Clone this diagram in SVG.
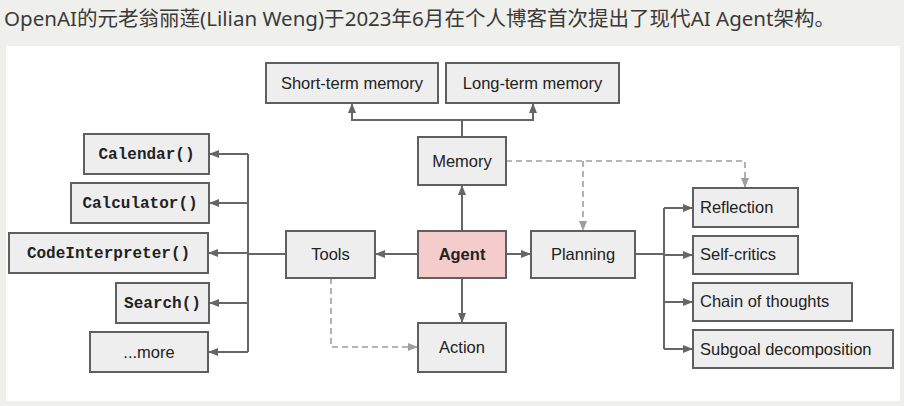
<svg xmlns="http://www.w3.org/2000/svg" width="904" height="406" viewBox="0 0 904 406">
<defs>
<style>
.box{fill:#eeeeee;stroke:#5f5f5f;stroke-width:2}
.agent{fill:#f4cccc;stroke:#5f5f5f;stroke-width:2}
.t{font-family:"Liberation Sans",Arial,sans-serif;font-size:16.5px;fill:#222;text-anchor:middle}
.tl{font-family:"Liberation Sans",Arial,sans-serif;font-size:16.5px;fill:#222}
.m{font-family:"Liberation Mono","Courier New",monospace;font-size:16px;font-weight:bold;fill:#222;text-anchor:middle}
.ln{fill:none;stroke:#666;stroke-width:2}
.ds{fill:none;stroke:#9e9e9e;stroke-width:1.6;stroke-dasharray:6 4}
</style>
<marker id="a" markerWidth="10" markerHeight="8" refX="10" refY="4" orient="auto" markerUnits="userSpaceOnUse"><path d="M0,0 L10,4 L0,8 z" fill="#666"/></marker>
<marker id="d" markerWidth="10" markerHeight="8" refX="10" refY="4" orient="auto" markerUnits="userSpaceOnUse"><path d="M0,0 L10,4 L0,8 z" fill="#9e9e9e"/></marker>
</defs>
<rect x="0" y="0" width="904" height="406" fill="#efefeb"/>
<text x="4" y="26" font-family="'Noto Sans','Noto Sans CJK SC',sans-serif" font-size="20.5" fill="#3a3a3a" textLength="831" lengthAdjust="spacingAndGlyphs">OpenAI的元老翁丽莲(Lilian Weng)于2023年6月在个人博客首次提出了现代AI Agent架构。</text>
<rect x="6" y="46" width="894" height="355" fill="#ffffff"/>

<g id="connectors">
<path class="ln" d="M462,137 V120"/>
<path class="ln" d="M462,120 H352 V103" marker-end="url(#a)"/>
<path class="ln" d="M462,120 H533 V103" marker-end="url(#a)"/>
<path class="ln" d="M462,231 V185" marker-end="url(#a)"/>
<path class="ln" d="M418,254 H375" marker-end="url(#a)"/>
<path class="ln" d="M506,254 H531" marker-end="url(#a)"/>
<path class="ln" d="M462,278 V323" marker-end="url(#a)"/>
<path class="ln" d="M286,254 H248"/>
<path class="ln" d="M248,154 V352"/>
<path class="ln" d="M248,154 H209" marker-end="url(#a)"/>
<path class="ln" d="M248,203 H209" marker-end="url(#a)"/>
<path class="ln" d="M248,253 H208" marker-end="url(#a)"/>
<path class="ln" d="M248,303 H209" marker-end="url(#a)"/>
<path class="ln" d="M248,352 H208" marker-end="url(#a)"/>
<path class="ln" d="M635,254 H664"/>
<path class="ln" d="M664,208 V349"/>
<path class="ln" d="M664,208 H693" marker-end="url(#a)"/>
<path class="ln" d="M664,255 H693" marker-end="url(#a)"/>
<path class="ln" d="M664,302 H693" marker-end="url(#a)"/>
<path class="ln" d="M664,349 H693" marker-end="url(#a)"/>
<path class="ds" d="M506,161 H745 V188" marker-end="url(#d)"/>
<path class="ds" d="M583,161 V231" marker-end="url(#d)"/>
<path class="ds" d="M331,278 V347 H418" marker-end="url(#d)"/>
</g>

<g id="short-term-memory"><rect class="box" x="266" y="63" width="172" height="40"/><text class="t" x="352" y="89">Short-term memory</text></g>
<g id="long-term-memory"><rect class="box" x="446" y="63" width="173" height="40"/><text class="t" x="532.5" y="89">Long-term memory</text></g>
<g id="memory"><rect class="box" x="418" y="137" width="88" height="48"/><text class="t" x="462" y="167">Memory</text></g>
<g id="calendar"><rect class="box" x="84" y="134" width="125" height="40"/><text class="m" x="146.5" y="159">Calendar()</text></g>
<g id="calculator"><rect class="box" x="71" y="183" width="138" height="40"/><text class="m" x="140" y="208">Calculator()</text></g>
<g id="codeinterpreter"><rect class="box" x="9" y="233" width="199" height="40"/><text class="m" x="108.5" y="258">CodeInterpreter()</text></g>
<g id="search"><rect class="box" x="116" y="283" width="93" height="40"/><text class="m" x="162.5" y="308">Search()</text></g>
<g id="more"><rect class="box" x="90" y="332" width="118" height="40"/><text class="t" x="149" y="358">...more</text></g>
<g id="tools"><rect class="box" x="286" y="231" width="89" height="47"/><text class="t" x="330.5" y="260">Tools</text></g>
<g id="agent"><rect class="agent" x="418" y="231" width="88" height="47"/><text class="t" x="462" y="260" font-weight="bold">Agent</text></g>
<g id="action"><rect class="box" x="418" y="323" width="88" height="49"/><text class="t" x="462" y="353">Action</text></g>
<g id="planning"><rect class="box" x="531" y="231" width="104" height="47"/><text class="t" x="583" y="260">Planning</text></g>
<g id="reflection"><rect class="box" x="693" y="188" width="105" height="39"/><text class="tl" x="700" y="213">Reflection</text></g>
<g id="self-critics"><rect class="box" x="693" y="236" width="105" height="38"/><text class="tl" x="700" y="260">Self-critics</text></g>
<g id="chain-of-thoughts"><rect class="box" x="693" y="283" width="159" height="38"/><text class="tl" x="700" y="307">Chain of thoughts</text></g>
<g id="subgoal-decomposition"><rect class="box" x="693" y="330" width="200" height="38"/><text class="tl" x="700" y="355">Subgoal decomposition</text></g>
</svg>
